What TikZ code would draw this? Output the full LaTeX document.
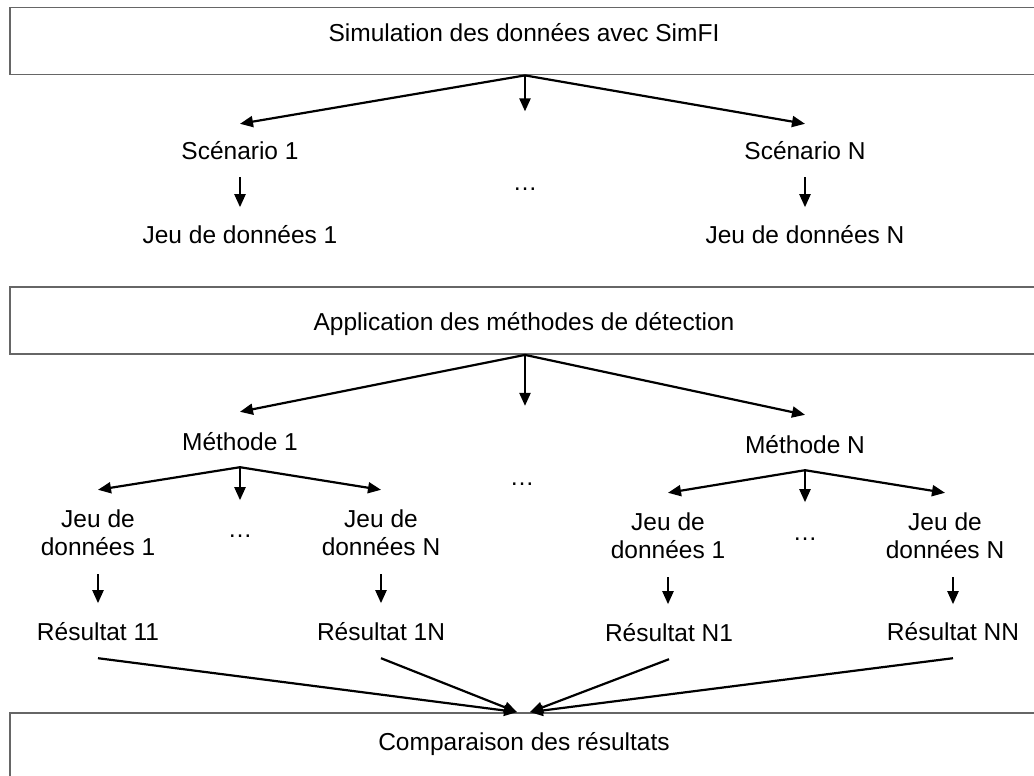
\documentclass[tikz,border=0pt]{standalone}
\usepackage{fontspec}
\setmainfont{Liberation Sans}
\usepackage{tikz}
\usetikzlibrary{positioning}
\usetikzlibrary{arrows.meta}

\tikzset{
  box/.style={draw=black!60, line width=1.8pt, minimum width=1030pt, minimum height=67pt, inner sep=0pt},
  txt/.style={inner sep=0pt, anchor=base, text height=17pt, text depth=5pt, text=black},
  two/.style={inner sep=0pt, align=center, text=black},
  arr/.style={-{Triangle[length=13pt,width=11pt]}, line width=2.2pt, black}
}

\begin{document}
\begin{tikzpicture}[x=1pt,y=-1pt,font=\fontsize{24.5}{28}\selectfont]
  \useasboundingbox (0,0) rectangle (1034,776);

  % simulation
  \node[box] (sim) at (525,41) {};
  \node[txt] (simt) at (524,42) {Simulation des données avec SimFI};
  \node[txt] (sc1) at (240,159) {Scénario 1};
  \node[txt] (scN) at (805,159) {Scénario N};
  \node[txt] (d1) at (525,190) {\ldots};
  \node[txt] (jd1) at (240,243) {Jeu de données 1};
  \node[txt] (jdN) at (805,243) {Jeu de données N};

  \draw[arr] (sim.south) -- ([yshift=18pt]sc1.north);
  \draw[arr] (sim.south) -- ++(0,36);
  \draw[arr] (sim.south) -- ([yshift=18pt]scN.north);
  \draw[arr] ([yshift=-13pt]sc1.south) -- ++(0,30);
  \draw[arr] ([yshift=-13pt]scN.south) -- ++(0,30);

  % methodes
  \node[box] (app) at (525,320.5) {};
  \node[txt] (appt) at (524,330) {Application des méthodes de détection};
  \node[txt] (m1) at (240,450) {Méthode 1};
  \node[txt] (mN) at (805,453) {Méthode N};
  \node[txt] (d2) at (522,485) {\ldots};

  \draw[arr] (app.south) -- ([yshift=21pt]m1.north);
  \draw[arr] (app.south) -- ++(0,51);
  \draw[arr] (app.south) -- ([yshift=21pt]mN.north);

  \node[two] (jd11) at (98,533) {Jeu de\\données 1};
  \node[txt] (d3) at (240,537) {\ldots};
  \node[two] (jd1N) at (381,533) {Jeu de\\données N};
  \node[two] (jdN1) at (668,536) {Jeu de\\données 1};
  \node[txt] (d4) at (805,540) {\ldots};
  \node[two] (jdNN) at (945,536) {Jeu de\\données N};

  \draw[arr] ([yshift=-12pt]m1.south) -- ([yshift=20pt]jd11.north);
  \draw[arr] ([yshift=-12pt]m1.south) -- ++(0,33);
  \draw[arr] ([yshift=-12pt]m1.south) -- ([yshift=20pt]jd1N.north);
  \draw[arr] ([yshift=-12pt]mN.south) -- ([yshift=20pt]jdN1.north);
  \draw[arr] ([yshift=-12pt]mN.south) -- ++(0,32);
  \draw[arr] ([yshift=-12pt]mN.south) -- ([yshift=20pt]jdNN.north);

  % resultats
  \node[txt] (r11) at (98,640) {Résultat 11};
  \node[txt] (r1N) at (381,640) {Résultat 1N};
  \node[txt] (rN1) at (669,641) {Résultat N1};
  \node[txt] (rNN) at (953,640) {Résultat NN};

  \draw[arr] ([yshift=-18pt]jd11.south) -- ++(0,29);
  \draw[arr] ([yshift=-18pt]jd1N.south) -- ++(0,29);
  \draw[arr] ([yshift=-18pt]jdN1.south) -- ++(0,27);
  \draw[arr] ([yshift=-18pt,xshift=8pt]jdNN.south) -- ++(0,27);

  % comparaison
  \node[box] (cmp) at (525,746.5) {};
  \node[txt] (cmpt) at (524,750) {Comparaison des résultats};

  \draw[arr] ([yshift=-13pt]r11.south) -- ([xshift=-8pt]cmp.north);
  \draw[arr] ([yshift=-13pt]r1N.south) -- ([xshift=-8pt]cmp.north);
  \draw[arr] ([yshift=-13pt]rN1.south) -- ([xshift=5pt]cmp.north);
  \draw[arr] ([yshift=-13pt]rNN.south) -- ([xshift=5pt]cmp.north);
\end{tikzpicture}
\end{document}
